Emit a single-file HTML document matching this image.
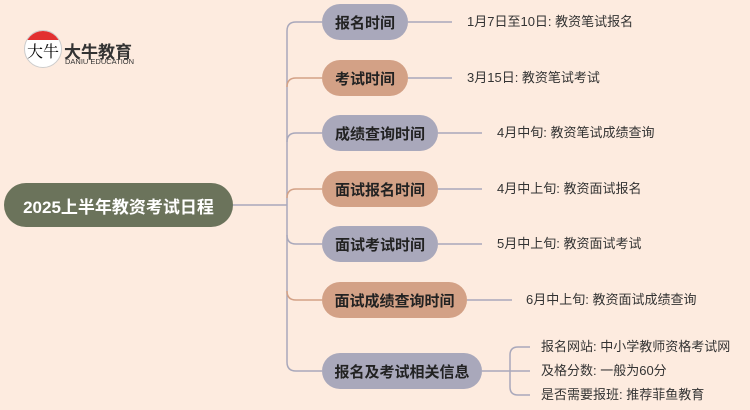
<!DOCTYPE html>
<html><head><meta charset="utf-8"><style>
body{margin:0;width:750px;height:410px;background:#fdebdf;overflow:hidden;position:relative;font-family:"Liberation Sans","Noto Sans CJK SC",sans-serif}
.p{position:absolute;height:36px;border-radius:18px;font-weight:bold;font-size:15px;color:#222;display:flex;align-items:center;justify-content:center}
.g{background:#a9a8bb}.t{background:#d3a186}
.l{position:absolute;font-size:13px;color:#333;white-space:nowrap;line-height:16px}
</style></head><body>
<svg width="750" height="410" style="position:absolute;left:0;top:0" fill="none" stroke-width="1.5">
<path d="M233 205 H287" stroke="#a9a8bb"/>
<path d="M322 22 H296 Q287 22 287 31 V205" stroke="#a9a8bb"/>
<path d="M322 78 H296 Q287 78 287 87" stroke="#d3a186"/>
<path d="M322 133 H296 Q287 133 287 142" stroke="#a9a8bb"/>
<path d="M322 189 H296 Q287 189 287 198" stroke="#d3a186"/>
<path d="M287 205 V362 Q287 371 296 371 H322" stroke="#a9a8bb"/>
<path d="M322 244 H296 Q287 244 287 235" stroke="#a9a8bb"/>
<path d="M322 300 H296 Q287 300 287 291" stroke="#d3a186"/>
<path d="M408 22 H452 M408 78 H452 M438 133 H482 M438 189 H482 M438 244 H482 M467 300 H512" stroke="#a9a8bb"/>
<path d="M482 371 H510 M530 347 H518 Q510 347 510 355 V387 Q510 395 518 395 H530 M510 371 H530" stroke="#a9a8bb"/>
</svg>
<div style="position:absolute;left:24px;top:30px;width:36px;height:36px;border-radius:50%;background:#fff;border:1px solid #ccc;overflow:hidden"><div style="height:9px;background:#e23030"></div><div style="font-size:16px;text-align:center;line-height:22px;font-family:'Noto Serif CJK SC',serif">大牛</div></div>
<div style="position:absolute;left:64px;top:38px;font-size:17px;font-weight:bold;color:#333">大牛教育</div>
<div style="position:absolute;left:65px;top:58px;font-size:7.5px;color:#333;line-height:8px">DANIU EDUCATION</div>
<div class="p" style="left:4px;top:183px;width:229px;height:44px;border-radius:22px;background:#6b735b;color:#fff;font-size:17px">2025上半年教资考试日程</div>
<div class="p g" style="left:322px;top:4px;width:86px">报名时间</div>
<div class="p t" style="left:322px;top:60px;width:86px">考试时间</div>
<div class="p g" style="left:322px;top:115px;width:116px">成绩查询时间</div>
<div class="p t" style="left:322px;top:171px;width:116px">面试报名时间</div>
<div class="p g" style="left:322px;top:226px;width:116px">面试考试时间</div>
<div class="p t" style="left:322px;top:282px;width:145px">面试成绩查询时间</div>
<div class="p g" style="left:322px;top:353px;width:160px">报名及考试相关信息</div>
<div class="l" style="left:467px;top:14px">1月7日至10日: 教资笔试报名</div>
<div class="l" style="left:467px;top:70px">3月15日: 教资笔试考试</div>
<div class="l" style="left:497px;top:125px">4月中旬: 教资笔试成绩查询</div>
<div class="l" style="left:497px;top:181px">4月中上旬: 教资面试报名</div>
<div class="l" style="left:497px;top:236px">5月中上旬: 教资面试考试</div>
<div class="l" style="left:526px;top:292px">6月中上旬: 教资面试成绩查询</div>
<div class="l" style="left:541px;top:339px">报名网站: 中小学教师资格考试网</div>
<div class="l" style="left:541px;top:363px">及格分数: 一般为60分</div>
<div class="l" style="left:541px;top:387px">是否需要报班: 推荐菲鱼教育</div>
</body></html>
